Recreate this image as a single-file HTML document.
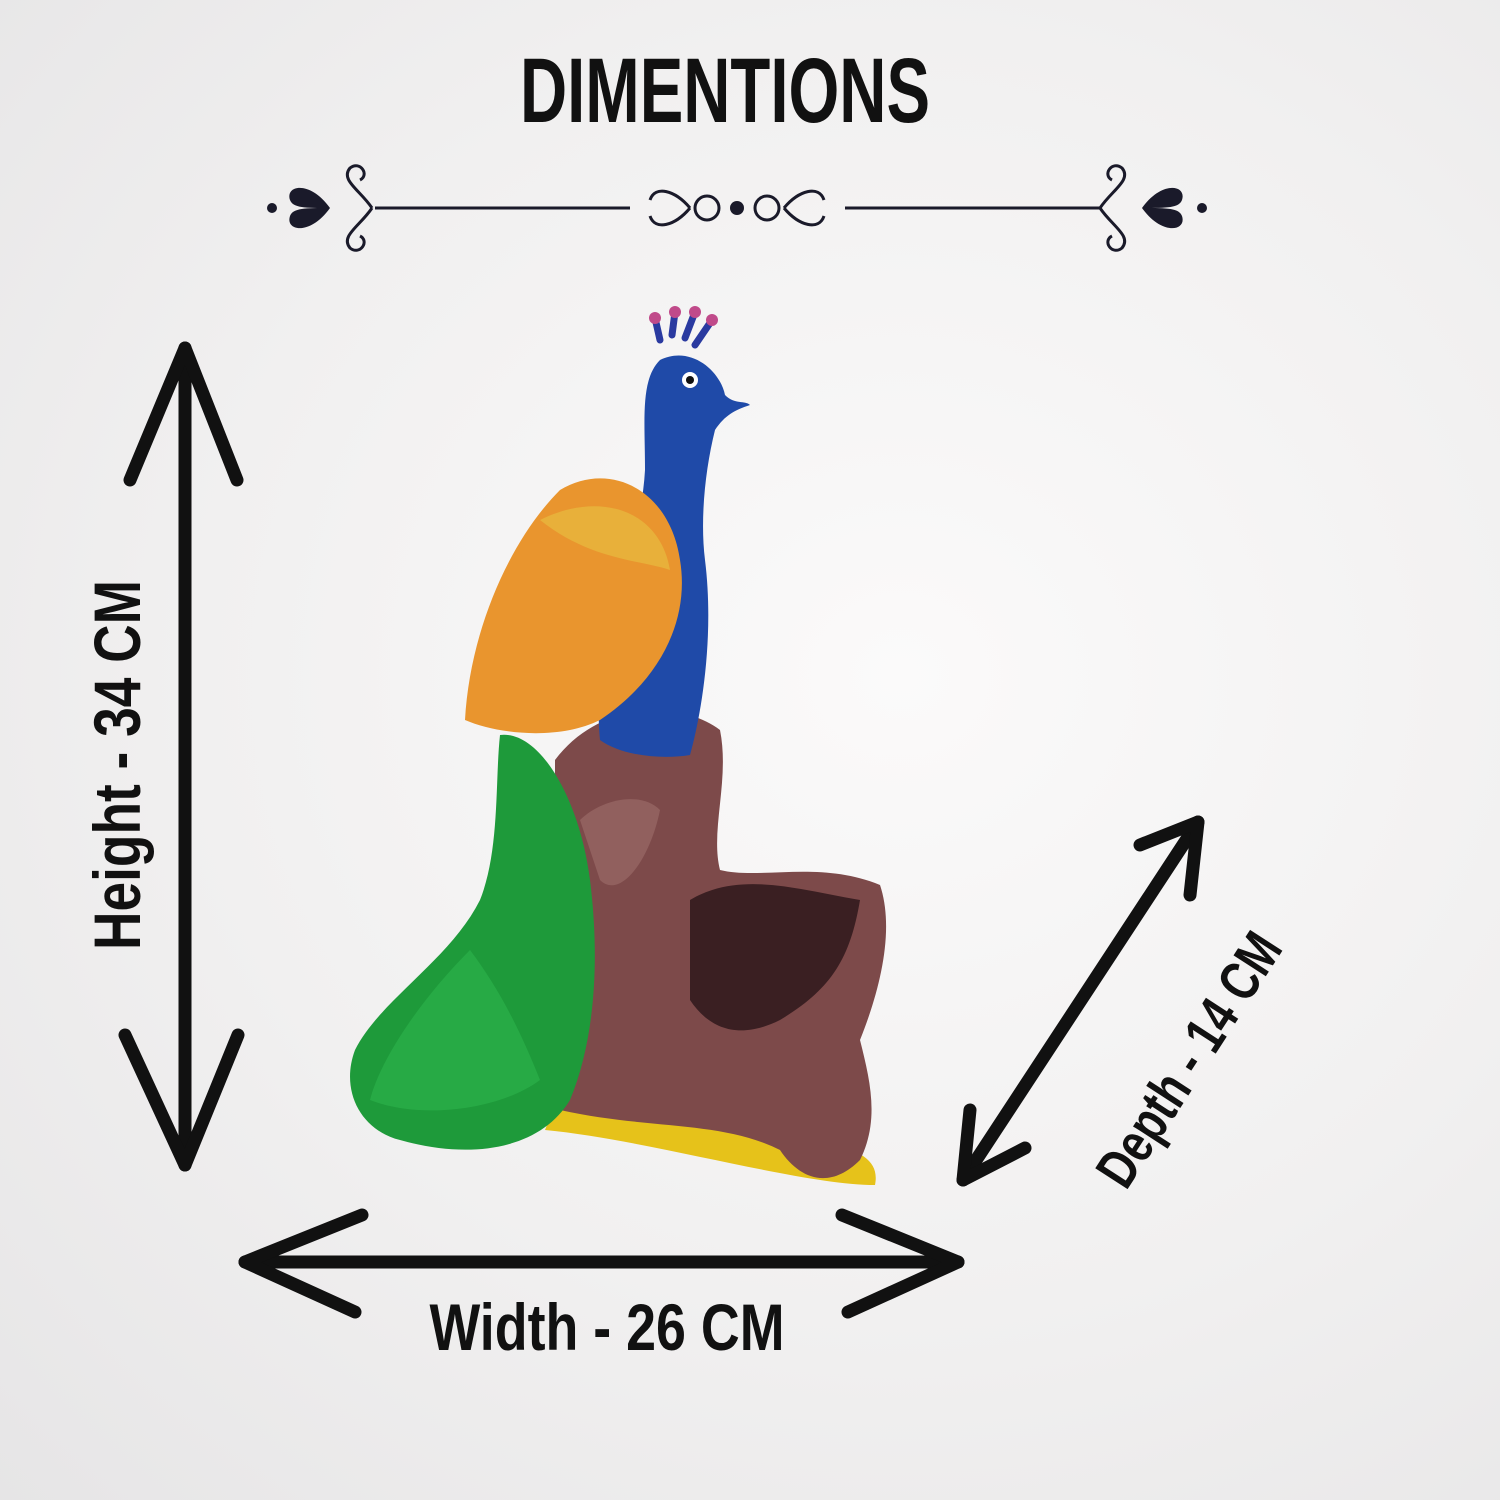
<!DOCTYPE html>
<html><head><meta charset="utf-8"><style>
html,body{margin:0;padding:0;}
body{width:1500px;height:1500px;overflow:hidden;background:radial-gradient(ellipse at 60% 45%,#fbfafa 0%,#f1f0f0 55%,#e6e5e6 100%);font-family:"Liberation Sans Narrow","Liberation Sans",sans-serif;}
svg{position:absolute;left:0;top:0;}
</style></head><body>
<svg width="1500" height="1500" viewBox="0 0 1500 1500">
<text x="725" y="122" text-anchor="middle" font-family="Liberation Sans Narrow, Liberation Sans, sans-serif" font-weight="bold" font-size="92" fill="#111" textLength="410" lengthAdjust="spacingAndGlyphs">DIMENTIONS</text>
<g stroke="#1a1a2a" stroke-width="3" fill="none">
<line x1="375" y1="208" x2="630" y2="208"/><line x1="845" y1="208" x2="1100" y2="208"/>
<circle cx="707" cy="208" r="12"/><circle cx="767" cy="208" r="12"/>
<path d="M372 208 C360 190 340 180 350 168 C360 160 370 175 360 180"/>
<path d="M372 208 C360 226 340 236 350 248 C360 256 370 241 360 236"/>
<path d="M1100 208 C1112 190 1132 180 1122 168 C1112 160 1102 175 1112 180"/>
<path d="M1100 208 C1112 226 1132 236 1122 248 C1112 256 1102 241 1112 236"/>
<path d="M690 208 C675 190 655 185 650 200 M690 208 C675 226 655 231 650 216"/>
<path d="M784 208 C799 190 819 185 824 200 M784 208 C799 226 819 231 824 216"/>
</g>
<circle cx="737" cy="208" r="7" fill="#1a1a2a"/>
<path d="M330 208 C310 180 285 185 290 200 C293 208 305 208 330 208 C305 208 293 208 290 216 C285 231 310 236 330 208Z" fill="#1a1a2a"/>
<path d="M1142 208 C1162 180 1187 185 1182 200 C1179 208 1167 208 1142 208 C1167 208 1179 208 1182 216 C1187 231 1162 236 1142 208Z" fill="#1a1a2a"/>
<circle cx="272" cy="208" r="5" fill="#1a1a2a"/><circle cx="1202" cy="208" r="5" fill="#1a1a2a"/>
<g stroke="#111" stroke-width="13" stroke-linecap="round" fill="none" stroke-linejoin="round">
<line x1="185" y1="348" x2="185" y2="1165"/>
<polyline points="130,480 185,348 237,480"/>
<polyline points="125,1035 185,1165 238,1035"/>
<line x1="245" y1="1262" x2="958" y2="1262"/>
<polyline points="362,1215 245,1262 355,1312"/>
<polyline points="842,1215 958,1262 848,1312"/>
<line x1="1198" y1="822" x2="963" y2="1180"/>
<polyline points="1140,845 1198,822 1190,895"/>
<polyline points="970,1110 963,1180 1025,1148"/>
</g>
<text transform="translate(140,765) rotate(-90)" text-anchor="middle" font-weight="bold" font-size="66" fill="#111" textLength="370" lengthAdjust="spacingAndGlyphs">Height - 34 CM</text>
<text x="607" y="1350" text-anchor="middle" font-weight="bold" font-size="66" fill="#111" textLength="355" lengthAdjust="spacingAndGlyphs">Width - 26 CM</text>
<text transform="translate(1205,1070) rotate(-57)" text-anchor="middle" font-weight="bold" font-size="56" fill="#111" textLength="290" lengthAdjust="spacingAndGlyphs">Depth - 14 CM</text>
<path d="M545 1130 C560 1090 600 1080 640 1100 C700 1110 760 1130 820 1140 C860 1150 880 1160 875 1185 C800 1185 650 1140 545 1130Z" fill="#e6c21a"/>
<path d="M555 760 C600 700 680 700 720 730 C730 780 710 830 720 870 C760 880 820 860 880 885 C895 930 880 990 860 1040 C870 1080 880 1120 860 1160 C830 1190 800 1180 780 1150 C720 1120 650 1130 560 1110 C520 1080 450 1000 470 940 C500 930 540 900 555 850Z" fill="#7d4a4a"/>
<path d="M690 900 C740 870 800 890 860 900 C850 960 830 990 780 1020 C740 1040 710 1030 690 1000Z" fill="#3a1f22"/>
<path d="M580 820 C600 800 640 790 660 810 C650 860 620 900 600 880Z" fill="#9a6a66" opacity="0.7"/>
<path d="M500 735 C540 730 580 800 590 880 C600 960 595 1040 570 1100 C540 1150 470 1160 400 1140 C360 1130 340 1090 355 1050 C380 1000 450 960 480 900 C500 850 495 780 500 735Z" fill="#1e9a3a"/>
<path d="M470 950 C420 1000 380 1060 370 1100 C420 1120 500 1110 540 1080 C520 1030 500 990 470 950Z" fill="#2bb04a" opacity="0.7"/>
<path d="M600 740 C590 640 640 560 645 470 C645 420 640 380 660 360 C690 345 720 370 725 395 C735 405 745 400 750 405 C735 410 725 415 715 430 C705 470 700 520 705 560 C715 640 700 720 690 755 C660 760 620 755 600 740Z" fill="#1f4aa8"/>
<circle cx="690" cy="380" r="8" fill="#fff"/><circle cx="690" cy="380" r="4" fill="#111"/>
<path d="M660 340 L655 318 M672 335 L675 312 M685 338 L695 312 M695 345 L712 320" stroke="#2a3aa0" stroke-width="7" stroke-linecap="round"/>
<circle cx="655" cy="318" r="6" fill="#c04a8a"/><circle cx="675" cy="312" r="6" fill="#c04a8a"/><circle cx="695" cy="312" r="6" fill="#c04a8a"/><circle cx="712" cy="320" r="6" fill="#c04a8a"/>
<path d="M465 720 C470 630 510 540 560 490 C610 460 670 490 680 560 C690 620 660 680 600 720 C560 740 500 735 465 720Z" fill="#e9952e"/>
<path d="M540 520 C600 490 660 510 670 570 C640 560 590 560 540 520Z" fill="#e8b03a"/>
</svg>
</body></html>
